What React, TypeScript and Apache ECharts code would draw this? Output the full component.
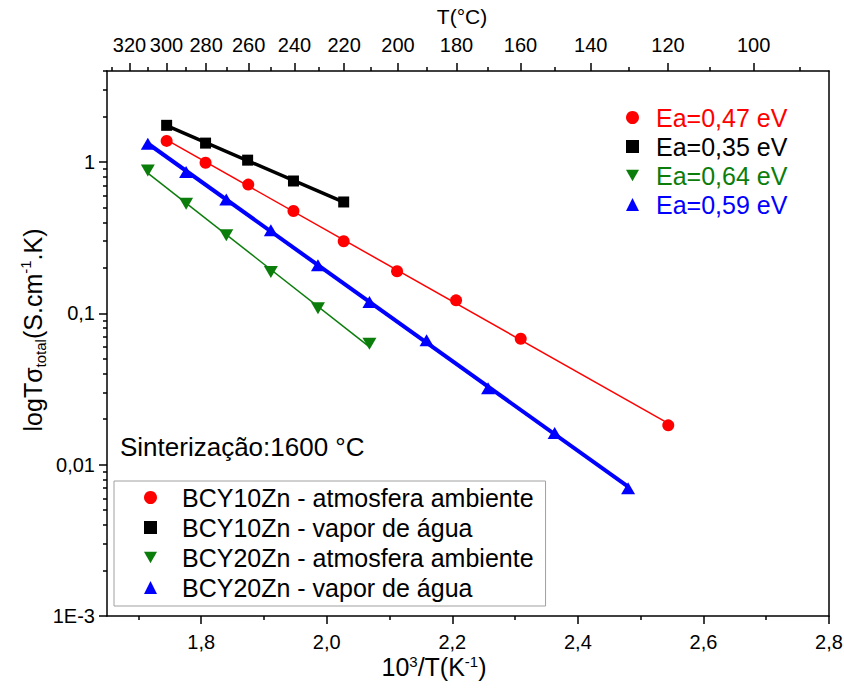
import React, { useEffect, useRef } from 'react';
import * as echarts from 'echarts';

const FONT = '"Liberation Sans", Arial, Helvetica, sans-serif';

// x = 10^3/T (K^-1), y = T·sigma_total (S.cm^-1.K)
const redX = [1.745, 1.807, 1.875, 1.947, 2.027, 2.112, 2.206, 2.309, 2.544];
const redY = [1.38, 0.99, 0.71, 0.475, 0.3, 0.19, 0.122, 0.068, 0.0182];
const blackX = [1.745, 1.807, 1.874, 1.947, 2.027];
const blackY = [1.75, 1.335, 1.03, 0.75, 0.545];
const greenX = [1.715, 1.776, 1.84, 1.911, 1.986, 2.068];
const greenY = [0.88, 0.53, 0.328, 0.188, 0.108, 0.063];
const blueX = [1.715, 1.776, 1.84, 1.911, 1.986, 2.068, 2.159, 2.257, 2.363, 2.48];
const blueY = [1.32, 0.86, 0.565, 0.354, 0.208, 0.119, 0.0665, 0.032, 0.0162, 0.007];

const seriesNames = [
  'BCY10Zn - atmosfera ambiente',
  'BCY10Zn - vapor de água',
  'BCY20Zn - atmosfera ambiente',
  'BCY20Zn - vapor de água',
];
const eaLabels = ['Ea=0,47 eV', 'Ea=0,35 eV', 'Ea=0,64 eV', 'Ea=0,59 eV'];
const colors = ['#ff0000', '#000000', '#0b7d0b', '#0000ff'];

// axis ticks
const bottomMajor = [1.8, 2.0, 2.2, 2.4, 2.6, 2.8];
const bottomMinor = [1.7, 1.9, 2.1, 2.3, 2.5, 2.7];
const topMajorC = [320, 300, 280, 260, 240, 220, 200, 180, 160, 140, 120, 100];
const topMinorC = [330, 310, 290, 270, 250, 230, 210, 190, 170, 150, 130, 110, 90];
const yMajor = [0.001, 0.01, 0.1, 1];
const yMinorMantissa = [2, 3, 4, 5, 6, 7, 8, 9];
const yDecades = [0.001, 0.01, 0.1, 1];

const X_MIN = 1.65;
const X_MAX = 2.8;
const Y_MIN = 0.001;
const Y_MAX = 4;

const cToX = (c: number) => 1000 / (c + 273.15);

const yMinor: number[] = [];
yDecades.forEach((d) =>
  yMinorMantissa.forEach((m) => {
    const v = +(m * d).toPrecision(3);
    if (v <= Y_MAX) yMinor.push(v);
  })
);

function fitLine(xs: number[], ys: number[]) {
  const ly = ys.map((v) => Math.log10(v));
  const n = xs.length;
  const mx = xs.reduce((a, b) => a + b, 0) / n;
  const my = ly.reduce((a, b) => a + b, 0) / n;
  let sxy = 0;
  let sxx = 0;
  for (let i = 0; i < n; i++) {
    sxy += (xs[i] - mx) * (ly[i] - my);
    sxx += (xs[i] - mx) * (xs[i] - mx);
  }
  const b = sxy / sxx;
  const a = my - b * mx;
  const x0 = Math.min(...xs);
  const x1 = Math.max(...xs);
  return [
    [x0, Math.pow(10, a + b * x0)],
    [x1, Math.pow(10, a + b * x1)],
  ];
}

const DOWN_TRI = 'path://M0,0L10,0L5,9Z';
const datasets = [
  { x: redX, y: redY, symbol: 'circle', size: 12, lw: 1.5 },
  { x: blackX, y: blackY, symbol: 'rect', size: 11, lw: 3.5 },
  { x: greenX, y: greenY, symbol: DOWN_TRI, size: [14, 12], lw: 1.5 },
  { x: blueX, y: blueY, symbol: 'triangle', size: [14, 12], lw: 4 },
];

const tickLine = { color: '#000', width: 1.5 };

function yFmt(v: number) {
  const e = Math.round(Math.log10(v));
  if (e === 0) return '1';
  if (e >= -2) return '0,' + '0'.repeat(-e - 1) + '1';
  return '1E' + e;
}

export default function App() {
  const ref = useRef<HTMLDivElement>(null);
  useEffect(() => {
    const chart = echarts.init(ref.current as HTMLDivElement, null, { renderer: 'svg' });

    const series: any[] = [];
    datasets.forEach((d, i) => {
      series.push({
        name: eaLabels[i],
        type: 'line',
        xAxisIndex: 0,
        yAxisIndex: 0,
        data: fitLine(d.x, d.y),
        showSymbol: false,
        symbol: 'none',
        lineStyle: { color: colors[i], width: d.lw },
        itemStyle: { color: colors[i] },
        z: 2,
      });
    });
    datasets.forEach((d, i) => {
      series.push({
        name: seriesNames[i],
        type: 'scatter',
        xAxisIndex: 0,
        yAxisIndex: 0,
        data: d.x.map((x, j) => [x, d.y[j]]),
        symbol: d.symbol,
        symbolSize: d.size,
        itemStyle: { color: colors[i], opacity: 1 },
        z: 3,
      });
    });

    const legendIcons = ['circle', 'rect', DOWN_TRI, 'triangle'];
    const iconSizes = [
      [12, 12],
      [11, 11],
      [14, 12],
      [14, 12],
    ];

    const option: any = {
      animation: false,
      backgroundColor: '#ffffff',
      textStyle: { fontFamily: FONT },
      grid: {
        left: 107,
        right: 15,
        top: 71,
        bottom: 72,
        containLabel: false,
        outerBoundsMode: 'none',
      },
      xAxis: [
        {
          type: 'value',
          position: 'bottom',
          min: X_MIN,
          max: X_MAX,
          axisLine: { show: true, onZero: false, lineStyle: tickLine },
          axisTick: { show: true, customValues: bottomMajor, length: 8, lineStyle: tickLine },
          axisLabel: {
            customValues: bottomMajor,
            formatter: (v: number) => v.toFixed(1).replace('.', ','),
            fontSize: 20,
            color: '#000',
            margin: 16,
            fontFamily: FONT,
          },
          splitLine: { show: false },
        },
        {
          type: 'value',
          position: 'bottom',
          min: X_MIN,
          max: X_MAX,
          axisLine: { show: false, onZero: false },
          axisTick: { show: true, customValues: bottomMinor, length: 4, lineStyle: tickLine },
          axisLabel: { show: false },
          splitLine: { show: false },
        },
        {
          type: 'value',
          position: 'top',
          min: X_MIN,
          max: X_MAX,
          axisLine: { show: true, onZero: false, lineStyle: tickLine },
          axisTick: { show: true, customValues: topMajorC.map(cToX), length: 8, lineStyle: tickLine },
          axisLabel: {
            customValues: topMajorC.map(cToX),
            formatter: (v: number) => String(Math.round(1000 / v - 273.15)),
            fontSize: 20,
            color: '#000',
            margin: 16,
            fontFamily: FONT,
          },
          splitLine: { show: false },
        },
        {
          type: 'value',
          position: 'top',
          min: X_MIN,
          max: X_MAX,
          axisLine: { show: false, onZero: false },
          axisTick: { show: true, customValues: topMinorC.map(cToX), length: 4, lineStyle: tickLine },
          axisLabel: { show: false },
          splitLine: { show: false },
        },
      ],
      yAxis: [
        {
          type: 'log',
          logBase: 10,
          position: 'left',
          min: Y_MIN,
          max: Y_MAX,
          axisLine: { show: true, onZero: false, lineStyle: tickLine },
          axisTick: { show: true, customValues: yMajor, length: 8, lineStyle: tickLine },
          axisLabel: {
            customValues: yMajor,
            formatter: yFmt,
            fontSize: 20,
            color: '#000',
            margin: 12,
            fontFamily: FONT,
          },
          splitLine: { show: false },
          minorTick: { show: false },
        },
        {
          type: 'log',
          logBase: 10,
          position: 'left',
          min: Y_MIN,
          max: Y_MAX,
          axisLine: { show: false, onZero: false },
          axisTick: { show: true, customValues: yMinor, length: 4, lineStyle: tickLine },
          axisLabel: { show: false },
          splitLine: { show: false },
        },
        {
          type: 'log',
          logBase: 10,
          position: 'right',
          min: Y_MIN,
          max: Y_MAX,
          axisLine: { show: true, onZero: false, lineStyle: tickLine },
          axisTick: { show: false },
          axisLabel: { show: false },
          splitLine: { show: false },
        },
      ],
      legend: [
        {
          orient: 'vertical',
          left: 114,
          top: 481,
          padding: [4, 12, 6, 30],
          itemGap: 5,
          itemWidth: 13,
          itemHeight: 13,
          borderColor: '#a0a0a0',
          borderWidth: 1,
          selectedMode: false,
          textStyle: {
            fontFamily: FONT,
            fontSize: 25,
            color: '#000',
            lineHeight: 25,
            padding: [0, 0, 0, 20],
          },
          data: seriesNames.map((n, i) => ({ name: n, icon: legendIcons[i] })),
        },
        {
          orient: 'vertical',
          left: 626,
          top: 105,
          padding: 0,
          itemGap: 4,
          itemWidth: 13,
          itemHeight: 13,
          selectedMode: false,
          textStyle: { fontFamily: FONT, fontSize: 25, lineHeight: 25, padding: [0, 0, 0, 12] },
          data: eaLabels.map((n, i) => ({
            name: n,
            icon: legendIcons[i],
            textStyle: { color: colors[i] },
          })),
        },
      ],
      graphic: [
        {
          type: 'text',
          x: 120,
          y: 447,
          style: {
            text: 'Sinterização:1600 °C',
            fontFamily: FONT,
            fontSize: 26,
            fill: '#000',
            align: 'left',
            verticalAlign: 'middle',
          },
        },
        {
          type: 'text',
          x: 462,
          y: 16,
          style: {
            text: 'T(°C)',
            fontFamily: FONT,
            fontSize: 21,
            fill: '#000',
            align: 'center',
            verticalAlign: 'middle',
          },
        },
        {
          type: 'text',
          x: 434,
          y: 667,
          style: {
            text: '{n|10}{sup|3}{n|/T(K}{sup|-1}{n|)}',
            align: 'center',
            verticalAlign: 'middle',
            rich: {
              n: { fontFamily: FONT, fontSize: 25, lineHeight: 26, fill: '#000', verticalAlign: 'middle' },
              sup: { fontFamily: FONT, fontSize: 15, lineHeight: 14, fill: '#000', verticalAlign: 'top' },
            },
          },
        },
        {
          type: 'text',
          x: 33,
          y: 330,
          rotation: Math.PI / 2,
          style: {
            text: '{n|logTσ}{sub|total}{n|(S.cm}{sup|-1}{n|.K)}',
            align: 'center',
            verticalAlign: 'middle',
            rich: {
              n: { fontFamily: FONT, fontSize: 25, lineHeight: 30, fill: '#000', verticalAlign: 'middle' },
              sup: { fontFamily: FONT, fontSize: 15, lineHeight: 15, fill: '#000', verticalAlign: 'top' },
              sub: { fontFamily: FONT, fontSize: 15, lineHeight: 15, fill: '#000', verticalAlign: 'bottom' },
            },
          },
        },
      ],
      series,
    };

    chart.setOption(option);
    return () => chart.dispose();
  }, []);

  return (
    <div
      ref={ref}
      style={{ position: 'fixed', left: 0, top: 0, width: 844, height: 688, background: '#fff' }}
    />
  );
}
